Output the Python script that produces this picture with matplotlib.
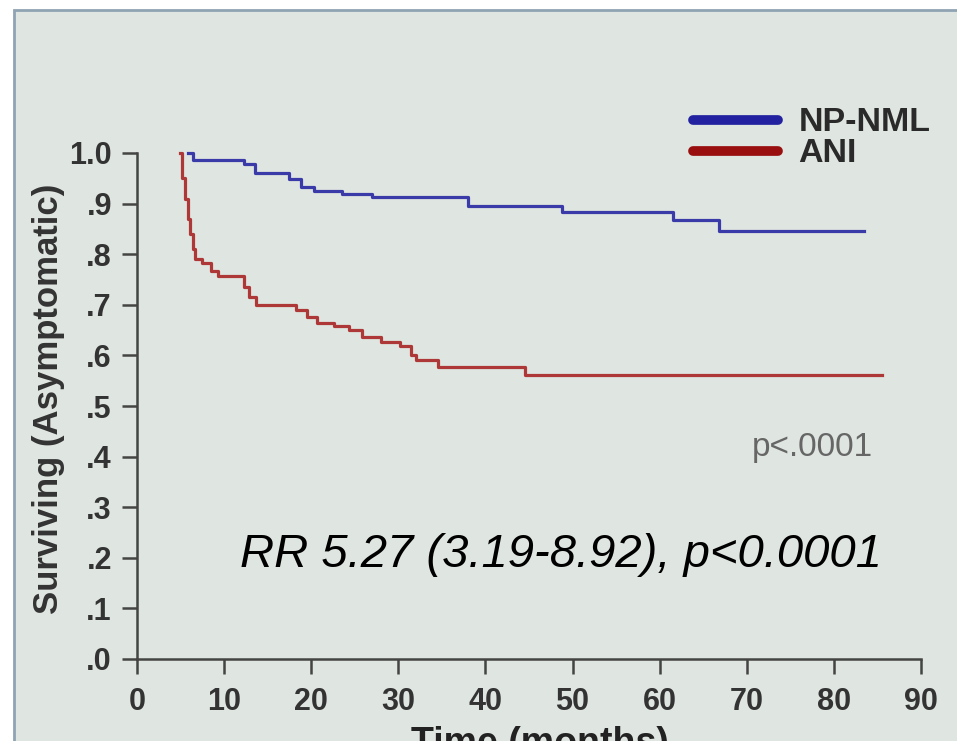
import matplotlib
matplotlib.use("Agg")
import matplotlib.pyplot as plt
from matplotlib.patches import Rectangle

plt.rcParams["font.family"] = ["Liberation Sans", "DejaVu Sans"]

# Kaplan-Meier curves (months, fraction asymptomatic)
npnml_t = [5.9, 6.4, 12.3, 13.6, 17.5, 18.8, 20.3, 23.5, 27.0, 38.0, 48.8, 61.5, 66.8, 83.5]
npnml_s = [1.0, 0.987, 0.978, 0.960, 0.948, 0.932, 0.925, 0.919, 0.913, 0.895, 0.884, 0.868, 0.846, 0.846]

ani_t = [4.9, 5.2, 5.5, 5.8, 6.1, 6.4, 6.7, 7.5, 8.5, 9.3, 12.3, 12.9, 13.7, 18.3, 19.5,
         20.7, 22.6, 24.3, 25.8, 28.0, 30.2, 31.4, 32.0, 34.6, 44.5, 85.5]
ani_s = [1.0, 0.95, 0.91, 0.87, 0.84, 0.81, 0.79, 0.783, 0.767, 0.756, 0.735, 0.715, 0.700, 0.690, 0.676,
         0.665, 0.658, 0.650, 0.636, 0.626, 0.619, 0.600, 0.590, 0.577, 0.561, 0.561]

x_ticks = [0, 10, 20, 30, 40, 50, 60, 70, 80, 90]
y_ticks = [0.0, 0.1, 0.2, 0.3, 0.4, 0.5, 0.6, 0.7, 0.8, 0.9, 1.0]
y_labels = [".0", ".1", ".2", ".3", ".4", ".5", ".6", ".7", ".8", ".9", "1.0"]

axis_col = "#444444"
bg = "#dfe5e0"

fig = plt.figure(figsize=(9.57, 7.41), dpi=100)
fig.patch.set_facecolor("white")
# slide area with its thin blue-grey edge (photo of a projected slide)
fig.patches.append(Rectangle((14 / 957, -0.1), 1.2, 1.1 - 10 / 741, transform=fig.transFigure,
                             facecolor=bg, edgecolor="#8fa3b3", linewidth=2, zorder=-10))

ax = fig.add_axes([137 / 957, 82 / 741, 784 / 957, 506 / 741])
ax.set_facecolor("none")

ax.step(npnml_t, npnml_s, where="post", color="#3a3aa8", lw=2.3, clip_on=False, label="NP-NML")
ax.step(ani_t, ani_s, where="post", color="#ae3838", lw=2.3, clip_on=False, label="ANI")

ax.set_xlim(0, 90)
ax.set_ylim(0, 1.0)
ax.set_xticks(x_ticks)
ax.set_yticks(y_ticks)
ax.set_yticklabels(y_labels)

for s in ["top", "right"]:
    ax.spines[s].set_visible(False)
for s in ["left", "bottom"]:
    ax.spines[s].set_color(axis_col)
    ax.spines[s].set_linewidth(1.8)

ax.tick_params(axis="both", direction="out", length=11, width=1.8, color=axis_col,
               labelsize=22, labelcolor="#333333")
ax.tick_params(axis="y", pad=7)
ax.tick_params(axis="x", pad=9)
for lab in ax.get_xticklabels() + ax.get_yticklabels():
    lab.set_fontweight("bold")

ax.set_ylabel("Surviving (Asymptomatic)", fontsize=25, fontweight="bold", color="#333333")
ax.yaxis.label.set_va("center")
ax.yaxis.set_label_coords(-0.113, 0.514)
ax.set_xlabel("Time (months)", fontsize=27, fontweight="bold", color="#222222")
ax.xaxis.set_label_coords(0.514, -0.132)

leg = ax.legend(loc="upper left", bbox_to_anchor=(0.709, 1.09), frameon=False,
                prop={"size": 24.5, "weight": "bold"}, handlelength=2.5, handletextpad=0.6,
                labelspacing=0.0, borderpad=0, borderaxespad=0)
leg.get_lines()[0].set_color("#2222a0")
leg.get_lines()[1].set_color("#990f0f")
for ln in leg.get_lines():
    ln.set_linewidth(7)
    ln.set_solid_capstyle("round")
for t in leg.get_texts():
    t.set_color("#2a2a2a")

ax.text(84.5, 0.401, "p<.0001", ha="right", va="baseline", fontsize=24, color="#666666")
ax.text(11.8, 0.182, "RR 5.27 (3.19-8.92), p<0.0001", ha="left", va="baseline",
        fontsize=34, style="italic", color="black")

fig.savefig("out.png", dpi=100, facecolor=fig.get_facecolor())
